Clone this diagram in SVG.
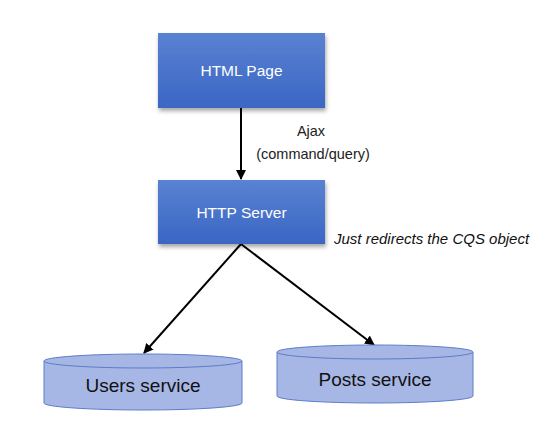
<svg xmlns="http://www.w3.org/2000/svg" width="541" height="427" viewBox="0 0 541 427">
<defs>
<linearGradient id="boxg" x1="0" y1="0" x2="0" y2="1">
<stop offset="0" stop-color="#5a82d2"/>
<stop offset="1" stop-color="#3a66c4"/>
</linearGradient>
<filter id="sh" x="-10%" y="-10%" width="130%" height="140%">
<feDropShadow dx="1" dy="3" stdDeviation="2" flood-color="#000" flood-opacity="0.35"/>
</filter>
<marker id="ah" viewBox="0 0 10 10" refX="9" refY="5" markerWidth="10" markerHeight="10" markerUnits="userSpaceOnUse" orient="auto">
<path d="M0,0 L10,5 L0,10 z" fill="#000"/>
</marker>
</defs>
<style>
.box{fill:url(#boxg);filter:url(#sh)}
.bt{font-family:"Liberation Sans",Arial,sans-serif;font-size:15.5px;fill:#fff;text-anchor:middle}
.cyl{fill:#a7b7e5;stroke:#5c7cc8;stroke-width:1}
.ct{font-family:"Liberation Sans",Arial,sans-serif;font-size:19px;fill:#111;text-anchor:middle}
.lbl{font-family:"Liberation Sans",Arial,sans-serif;font-size:14.5px;fill:#222;text-anchor:middle}
.conn{stroke:#000;stroke-width:2;fill:none;marker-end:url(#ah)}
</style>
<rect width="541" height="427" fill="#fff"/>
<g id="connectors">
<line class="conn" x1="241" y1="108" x2="241" y2="179"/>
<line class="conn" x1="241" y1="244" x2="144" y2="353"/>
<line class="conn" x1="241" y1="244" x2="374" y2="345"/>
<text class="lbl" x="311" y="136">Ajax</text>
<text class="lbl" x="313" y="159">(command/query)</text>
</g>
<g id="html-page">
<rect class="box" x="158" y="33" width="167" height="75"/>
<text class="bt" x="241.5" y="76">HTML Page</text>
</g>
<g id="http-server">
<rect class="box" x="158" y="180" width="167" height="64"/>
<text class="bt" x="241.5" y="218">HTTP Server</text>
<text x="334" y="244" font-family="'Liberation Sans',Arial,sans-serif" font-size="15" font-style="italic" fill="#111">Just redirects the CQS object</text>
</g>
<g id="users-service">
<path class="cyl" d="M44,361 L44,403 A99,7 0 0 0 242,403 L242,361"/>
<ellipse class="cyl" cx="143" cy="361" rx="99" ry="7"/>
<text class="ct" x="143" y="392">Users service</text>
</g>
<g id="posts-service">
<path class="cyl" d="M277,352 L277,396 A98,7 0 0 0 473,396 L473,352"/>
<ellipse class="cyl" cx="375" cy="352" rx="98" ry="7"/>
<text class="ct" x="375" y="386">Posts service</text>
</g>
</svg>
